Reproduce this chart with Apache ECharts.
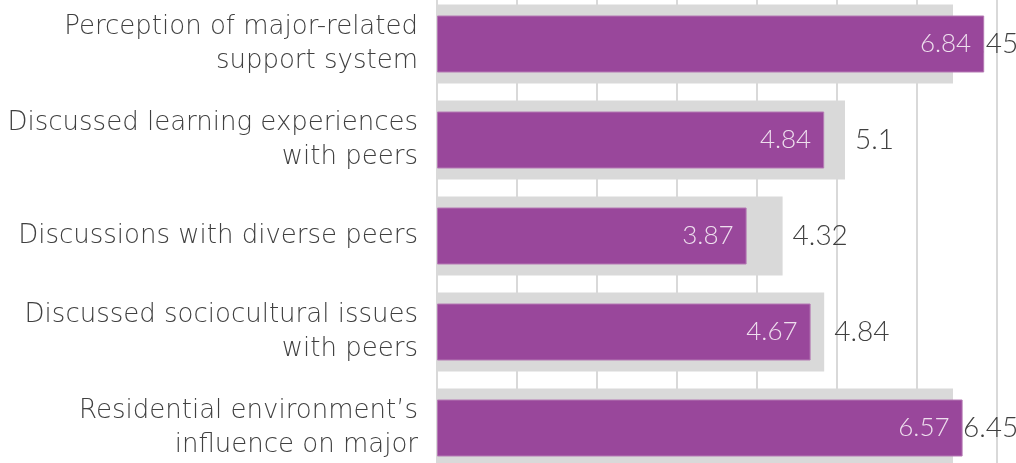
<!DOCTYPE html>
<html><head><meta charset="utf-8">
<script src="https://cdn.jsdelivr.net/npm/echarts@6/dist/echarts.min.js"></script>
<style>html,body{margin:0;padding:0;background:#fff;overflow:hidden;width:1016px;height:463px;position:relative}#c{position:absolute;left:0;top:-4px;width:1016px;height:480px}</style>
</head><body><div id="c"></div>
<script>
var categories = ['Perception of major-related\nsupport system', 'Discussed learning experiences\nwith peers', 'Discussions with diverse peers', 'Discussed sociocultural issues\nwith peers', 'Residential environment\u2019s\ninfluence on major'];
var purpleValues = [6.84, 4.84, 3.87, 4.67, 6.57];
var grayValues = [6.45, 5.1, 4.32, 4.84, 6.45];
var xTicks = [0, 1, 2, 3, 4, 5, 6, 7];

var CAT_FONT = 'DejaVu Sans';
var NUM_FONT = 'Lato';
var chart = echarts.init(document.getElementById('c'));
chart.setOption({
  animation: false,
  grid: { left: 437, right: 19, top: 0, bottom: 0, containLabel: false },
  xAxis: {
    type: 'value', min: xTicks[0], max: xTicks[xTicks.length - 1], interval: 1,
    axisLabel: { show: false }, axisLine: { show: false }, axisTick: { show: false },
    splitLine: { show: true, lineStyle: { color: '#d9d9d9', width: 2 } }
  },
  yAxis: [{
    type: 'category', data: categories, inverse: true,
    axisLine: { show: false }, axisTick: { show: false },
    axisLabel: { margin: 19, fontFamily: CAT_FONT, fontWeight: 200, fontSize: 26, lineHeight: 34, padding: [6, 0, 0, 0], color: '#404040', align: 'right' }
  }, {
    type: 'category', data: categories, inverse: true, show: false
  }],
  series: [{
    type: 'bar', data: grayValues, yAxisIndex: 0, barWidth: 79, z: 1,
    itemStyle: { color: '#d9d9d9' },
    label: { show: true, position: 'right', distance: 10, fontFamily: NUM_FONT, fontWeight: 300, fontSize: 28, color: '#404040' }
  }, {
    type: 'bar', data: purpleValues, yAxisIndex: 1, barWidth: 57, z: 3,
    itemStyle: { color: '#99479b', borderColor: '#b57bb4', borderWidth: 1 },
    label: { show: true, position: 'insideRight', distance: 13, fontFamily: NUM_FONT, fontWeight: 300, fontSize: 26, color: '#eedfee' }
  }]
});
</script></body></html>
